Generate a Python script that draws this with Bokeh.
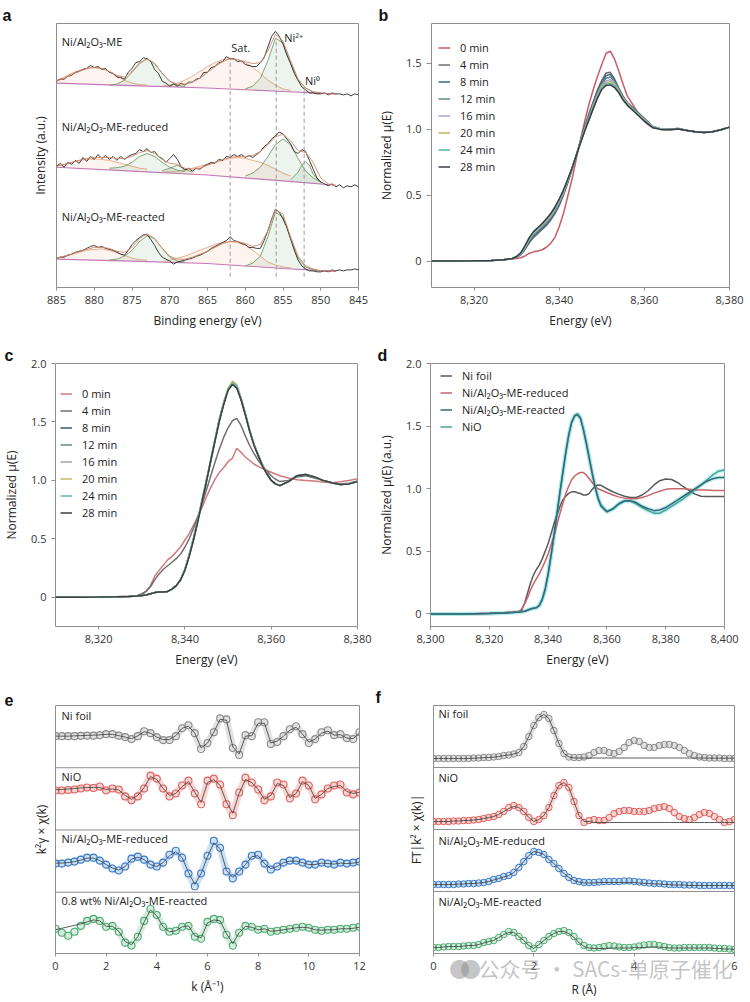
import numpy as np
from bokeh.plotting import figure
from bokeh.layouts import column, row
from bokeh.models import (Range1d, FixedTicker, Label, Legend, LegendItem, Span, LinearAxis,
                          NumeralTickFormatter, CustomJSTickFormatter)
from bokeh.embed import file_html
from bokeh.resources import INLINE

FONT = "Open Sans"

# ---------------- panel a : XPS Ni 2p (intensity in arbitrary units) ----------------
# measured spectra, 0.5 eV steps from 885 eV down to 845 eV
a_me = [211, 213, 213, 216, 217, 220, 221, 223, 224, 227,
        225, 226, 223, 224, 220, 219, 215, 215, 213, 220,
        224, 230, 231, 235, 234, 231, 223, 219, 211, 209,
        206, 208, 206, 209, 207, 210, 210, 213, 214, 220,
        220, 225, 226, 230, 231, 236, 234, 234, 231, 232,
        228, 227, 226, 226, 230, 235, 246, 257, 262, 257,
        249, 238, 229, 219, 212, 205, 202, 199, 199, 198,
        198, 199, 197, 199, 198, 198, 197, 198, 196, 198, 197]
a_reduced = [124, 127, 123, 128, 126, 130, 127, 133, 129, 134,
             131, 136, 132, 135, 131, 134, 130, 134, 131, 134,
             136, 137, 141, 139, 142, 138, 139, 134, 132, 128,
             132, 136, 131, 124, 120, 122, 119, 122, 121, 124,
             126, 128, 127, 131, 130, 134, 133, 136, 134, 136,
             133, 135, 133, 136, 139, 144, 147, 152, 155, 159,
             157, 152, 147, 139, 137, 141, 139, 130, 121, 112,
             108, 106, 104, 106, 103, 105, 102, 104, 103, 105, 103]
a_reacted = [30, 31, 31, 33, 34, 36, 37, 38, 40, 42,
             43, 41, 42, 40, 39, 38, 36, 34, 33, 38,
             44, 48, 51, 54, 54, 49, 43, 36, 31, 29,
             27, 24, 26, 27, 28, 29, 30, 32, 33, 35,
             37, 40, 42, 44, 46, 48, 52, 48, 47, 45,
             44, 41, 41, 40, 40, 48, 58, 70, 80, 77,
             70, 62, 50, 38, 28, 22, 19, 17, 17, 16,
             16, 17, 16, 18, 17, 18, 17, 18, 18, 19, 18]

# fitted envelopes, 1 eV steps 885 -> 848
a_fit_energy = list(range(885, 847, -1))
a_me_fit = [211, 214, 218, 221, 224, 225, 224, 221, 217, 215,
            221, 230, 234, 229, 219, 211, 208, 208, 210, 214,
            220, 226, 231, 234, 233, 231, 229, 230, 242, 259,
            252, 232, 213, 204, 200, 199, 198, 198]
a_reduced_fit = [124, 126, 128, 130, 132, 133, 133, 133, 132, 132,
                 134, 138, 140, 137, 131, 127, 126, 122, 121, 122,
                 125, 128, 131, 133, 134, 134, 135, 139, 146, 154,
                 157, 150, 140, 138, 128, 112, 106, 104]
a_reacted_fit = [30, 32, 34, 37, 39, 41, 41, 40, 37, 36,
                 41, 50, 55, 50, 40, 32, 29, 29, 31, 34,
                 37, 41, 45, 47, 47, 45, 42, 44, 58, 80,
                 75, 52, 32, 22, 19, 17, 17, 17]

# backgrounds
a_bg_energy = [885, 875, 865, 855, 848]
a_me_bg = [209, 206.5, 204, 200.5, 198]
a_reduced_bg = [123, 119, 115, 109, 104.5]
a_reacted_bg = [29, 27, 24.5, 19.5, 16.5]

# fitted components
a_sat880_energy = list(range(885, 872, -1))
a_p873_energy = list(range(878, 867, -1))
a_sat862_energy = list(range(871, 853, -1))
a_ni2_energy = list(range(860, 849, -1))
a_p869_energy = [871, 870, 869, 868, 867]
a_ni0_energy = [854, 853, 852.5, 852, 851.5, 851, 850]

a_me_sat880 = [212, 215, 219, 222, 224, 225, 224, 221, 216, 212, 209, 207.5, 207]
a_me_p873 = [207, 208, 212, 220, 229, 234, 229, 219, 211, 207, 205.5]
a_me_sat862 = [206, 207, 209, 212, 216, 221, 226, 230, 233, 234, 233, 230, 225, 219, 212, 207, 203, 201.5]
a_me_ni2 = [203, 206, 214, 232, 255, 250, 230, 212, 204, 200, 199]

a_reduced_sat880 = [124, 126, 128, 130, 131, 131.5, 131, 130, 128, 126, 124, 122, 121]
a_reduced_p873 = [122, 122.5, 124, 128, 134, 137, 134, 128, 123, 120, 118.5]
a_reduced_p869 = [119.5, 122, 125, 121, 118]
a_reduced_sat862 = [118, 118.5, 119, 120, 122, 124, 126, 128, 130, 132, 133, 132, 130, 128, 125, 121, 117, 114]
a_reduced_ni2 = [114, 117, 123, 134, 146, 152, 146, 132, 119, 112, 108]
a_reduced_ni0 = [110, 118, 125, 129, 125, 116, 107]

a_reacted_sat880 = [30, 32, 34, 36, 38, 39, 39.5, 38, 36, 33, 30, 28.5, 28]
a_reacted_p873 = [28, 29, 32, 38, 47, 53, 50, 40, 31, 27, 26]
a_reacted_sat862 = [26, 28, 30, 32, 35, 38, 41, 44, 46, 47, 46, 43, 38, 32, 26, 23, 21, 20]
a_reacted_ni2 = [22, 25, 32, 52, 77, 72, 50, 30, 21, 18, 17]

a_peak_energy = [862.0, 855.9, 852.2]
a_peak_names = ["Sat.", "Ni\u00b2\u207a", "Ni\u2070"]
a_sample_names = ["Ni/Al\u2082O\u2083-ME", "Ni/Al\u2082O\u2083-ME-reduced", "Ni/Al\u2082O\u2083-ME-reacted"]

# ---------------- panels b, c : operando XANES ----------------
xanes_energy = [8310, 8315, 8320, 8324, 8327, 8329,
                8330, 8331, 8332, 8333, 8334, 8335, 8336, 8337, 8338, 8339,
                8340, 8341, 8342, 8343, 8344, 8345, 8346, 8347, 8348, 8349,
                8350, 8351, 8352, 8353, 8354, 8355, 8356, 8357, 8358, 8359,
                8360, 8361, 8362, 8364, 8366, 8368, 8370, 8372, 8374, 8376, 8378, 8380]
time_labels = ["0 min", "4 min", "8 min", "12 min", "16 min", "20 min", "24 min", "28 min"]

b_0min = [0, 0, 0.002, 0.005, 0.01, 0.015,
          0.02, 0.025, 0.04, 0.06, 0.07, 0.076, 0.086, 0.105, 0.135, 0.18,
          0.26, 0.36, 0.49, 0.62, 0.77, 0.92, 1.06, 1.19, 1.30, 1.40,
          1.49, 1.575, 1.59, 1.53, 1.44, 1.34, 1.25, 1.20, 1.15, 1.10,
          1.06, 1.03, 1.01, 1.0, 1.0, 1.0, 0.99, 0.98, 0.975, 0.98, 0.995, 1.015]
b_4min = [0, 0, 0.002, 0.005, 0.01, 0.02,
          0.03, 0.05, 0.09, 0.14, 0.18, 0.21, 0.24, 0.27, 0.31, 0.36,
          0.42, 0.50, 0.59, 0.69, 0.80, 0.91, 1.02, 1.12, 1.21, 1.30,
          1.37, 1.425, 1.43, 1.38, 1.31, 1.25, 1.20, 1.17, 1.14, 1.11,
          1.08, 1.05, 1.02, 1.0, 1.0, 1.005, 0.99, 0.98, 0.975, 0.98, 0.995, 1.015]
b_8min = [0, 0, 0.002, 0.005, 0.01, 0.02,
          0.03, 0.05, 0.095, 0.15, 0.19, 0.22, 0.25, 0.28, 0.32, 0.37,
          0.43, 0.51, 0.60, 0.70, 0.80, 0.91, 1.02, 1.11, 1.20, 1.28,
          1.35, 1.405, 1.415, 1.37, 1.30, 1.245, 1.20, 1.17, 1.14, 1.11,
          1.08, 1.05, 1.02, 1.0, 1.0, 1.005, 0.99, 0.98, 0.975, 0.98, 0.995, 1.015]
b_12min = [0, 0, 0.002, 0.005, 0.01, 0.02,
           0.03, 0.055, 0.10, 0.16, 0.20, 0.23, 0.26, 0.29, 0.33, 0.38,
           0.44, 0.52, 0.61, 0.70, 0.80, 0.905, 1.01, 1.10, 1.19, 1.27,
           1.34, 1.385, 1.395, 1.36, 1.30, 1.24, 1.20, 1.165, 1.135, 1.105,
           1.075, 1.045, 1.02, 1.0, 0.998, 1.0, 0.99, 0.98, 0.975, 0.98, 0.995, 1.015]
b_16min = [0, 0, 0.002, 0.005, 0.01, 0.02,
           0.03, 0.055, 0.105, 0.165, 0.21, 0.24, 0.27, 0.30, 0.34, 0.39,
           0.45, 0.52, 0.61, 0.70, 0.80, 0.90, 1.0, 1.09, 1.18, 1.26,
           1.33, 1.365, 1.375, 1.345, 1.29, 1.235, 1.195, 1.16, 1.13, 1.10,
           1.07, 1.045, 1.02, 1.0, 0.998, 1.0, 0.99, 0.98, 0.975, 0.98, 0.995, 1.015]
b_20min = [0, 0, 0.002, 0.005, 0.01, 0.02,
           0.035, 0.06, 0.11, 0.17, 0.215, 0.245, 0.275, 0.31, 0.35, 0.40,
           0.46, 0.53, 0.61, 0.70, 0.80, 0.90, 0.995, 1.08, 1.17, 1.25,
           1.32, 1.35, 1.36, 1.335, 1.285, 1.23, 1.19, 1.16, 1.13, 1.10,
           1.07, 1.04, 1.015, 0.998, 0.996, 1.0, 0.99, 0.98, 0.975, 0.98, 0.995, 1.015]
b_24min = [0, 0, 0.002, 0.005, 0.01, 0.02,
           0.035, 0.06, 0.115, 0.175, 0.22, 0.25, 0.28, 0.315, 0.355, 0.405,
           0.465, 0.535, 0.615, 0.70, 0.80, 0.895, 0.99, 1.075, 1.16, 1.24,
           1.31, 1.34, 1.345, 1.325, 1.28, 1.225, 1.185, 1.155, 1.125, 1.095,
           1.065, 1.04, 1.015, 0.998, 0.996, 1.0, 0.99, 0.98, 0.975, 0.98, 0.995, 1.015]
b_28min = [0, 0, 0.002, 0.005, 0.01, 0.02,
           0.035, 0.065, 0.12, 0.18, 0.225, 0.255, 0.285, 0.32, 0.36, 0.41,
           0.47, 0.54, 0.62, 0.705, 0.80, 0.895, 0.985, 1.07, 1.155, 1.235,
           1.30, 1.33, 1.335, 1.315, 1.275, 1.22, 1.18, 1.15, 1.12, 1.09,
           1.06, 1.035, 1.01, 0.996, 0.995, 1.0, 0.99, 0.98, 0.975, 0.98, 0.995, 1.015]

c_0min = [0, 0, 0.002, 0.004, 0.008, 0.012,
          0.02, 0.05, 0.10, 0.18, 0.23, 0.275, 0.32, 0.35, 0.39, 0.43,
          0.49, 0.545, 0.617, 0.69, 0.77, 0.86, 0.94, 1.01, 1.07, 1.11,
          1.16, 1.19, 1.275, 1.24, 1.20, 1.17, 1.14, 1.12, 1.10, 1.085,
          1.07, 1.055, 1.04, 1.02, 1.005, 1.0, 0.994, 0.986, 0.98, 0.989, 1.0, 1.014]
c_4min = [0, 0, 0.002, 0.004, 0.008, 0.015,
          0.03, 0.05, 0.09, 0.15, 0.20, 0.24, 0.27, 0.30, 0.33, 0.37,
          0.43, 0.50, 0.59, 0.69, 0.80, 0.92, 1.04, 1.16, 1.27, 1.37,
          1.45, 1.51, 1.53, 1.47, 1.38, 1.30, 1.23, 1.17, 1.12, 1.08,
          1.04, 1.01, 0.99, 1.0, 1.03, 1.04, 1.02, 1.0, 0.98, 0.97, 0.975, 0.995]
c_8min = [0, 0, 0.002, 0.004, 0.007, 0.01,
          0.015, 0.02, 0.03, 0.04, 0.045, 0.045, 0.05, 0.07, 0.10, 0.15,
          0.24, 0.36, 0.50, 0.66, 0.83, 1.0, 1.17, 1.35, 1.52, 1.66,
          1.78, 1.83, 1.80, 1.70, 1.57, 1.43, 1.31, 1.22, 1.13, 1.06,
          1.0, 0.97, 0.955, 0.99, 1.04, 1.05, 1.03, 1.0, 0.98, 0.965, 0.97, 0.99]
c_12min = [0, 0, 0.002, 0.004, 0.007, 0.01,
           0.015, 0.02, 0.03, 0.04, 0.045, 0.045, 0.05, 0.07, 0.10, 0.15,
           0.24, 0.37, 0.51, 0.67, 0.84, 1.01, 1.18, 1.36, 1.53, 1.67,
           1.78, 1.84, 1.81, 1.70, 1.57, 1.43, 1.31, 1.22, 1.13, 1.06,
           1.0, 0.97, 0.955, 0.99, 1.04, 1.05, 1.03, 1.0, 0.98, 0.965, 0.97, 0.99]
c_16min = [0, 0, 0.002, 0.004, 0.007, 0.01,
           0.015, 0.02, 0.03, 0.04, 0.045, 0.045, 0.05, 0.07, 0.10, 0.15,
           0.23, 0.35, 0.49, 0.65, 0.82, 0.99, 1.16, 1.34, 1.51, 1.65,
           1.77, 1.82, 1.80, 1.69, 1.56, 1.42, 1.31, 1.21, 1.13, 1.06,
           1.0, 0.97, 0.955, 0.99, 1.04, 1.05, 1.03, 1.0, 0.98, 0.965, 0.97, 0.99]
c_20min = [0, 0, 0.002, 0.004, 0.007, 0.01,
           0.015, 0.02, 0.03, 0.04, 0.045, 0.045, 0.05, 0.07, 0.10, 0.15,
           0.24, 0.36, 0.50, 0.66, 0.83, 1.0, 1.18, 1.36, 1.53, 1.67,
           1.79, 1.85, 1.82, 1.71, 1.57, 1.43, 1.31, 1.22, 1.13, 1.06,
           1.0, 0.97, 0.955, 0.99, 1.04, 1.05, 1.03, 1.0, 0.98, 0.965, 0.97, 0.99]
c_24min = [0, 0, 0.002, 0.004, 0.007, 0.01,
           0.015, 0.02, 0.03, 0.04, 0.045, 0.045, 0.05, 0.07, 0.10, 0.15,
           0.24, 0.36, 0.50, 0.66, 0.83, 1.0, 1.17, 1.35, 1.52, 1.66,
           1.78, 1.83, 1.81, 1.70, 1.57, 1.43, 1.30, 1.21, 1.12, 1.055,
           1.0, 0.97, 0.955, 0.99, 1.04, 1.05, 1.03, 1.0, 0.98, 0.965, 0.97, 0.99]
c_28min = [0, 0, 0.002, 0.004, 0.007, 0.01,
           0.015, 0.02, 0.03, 0.04, 0.045, 0.045, 0.05, 0.07, 0.10, 0.15,
           0.23, 0.35, 0.49, 0.65, 0.82, 0.99, 1.17, 1.34, 1.51, 1.65,
           1.77, 1.82, 1.79, 1.69, 1.56, 1.42, 1.30, 1.21, 1.12, 1.055,
           1.0, 0.97, 0.955, 0.99, 1.04, 1.05, 1.03, 1.0, 0.98, 0.965, 0.97, 0.99]

# ---------------- panel d : reference XANES ----------------
d_energy = [8300, 8305, 8310, 8315, 8320, 8325, 8328,
            8330, 8331, 8332, 8333, 8334, 8335, 8336, 8337, 8338, 8339,
            8340, 8341, 8342, 8343, 8344, 8345, 8346, 8347, 8348, 8349,
            8350, 8351, 8352, 8353, 8354, 8355, 8356, 8357, 8358,
            8360, 8362, 8364, 8366, 8368, 8370, 8372, 8374, 8376, 8378,
            8380, 8382, 8384, 8386, 8388, 8390, 8392, 8394, 8396, 8398, 8400]
d_ni_foil = [0, 0, 0, 0.002, 0.005, 0.01, 0.015,
             0.02, 0.03, 0.085, 0.165, 0.245, 0.31, 0.355, 0.39, 0.44, 0.50,
             0.56, 0.64, 0.72, 0.79, 0.855, 0.91, 0.94, 0.963, 0.975, 0.976,
             0.968, 0.962, 0.95, 0.95, 0.963, 0.995, 1.02, 1.03, 1.027,
             1.0, 0.976, 0.957, 0.94, 0.93, 0.93, 0.95, 0.984, 1.03, 1.064,
             1.077, 1.074, 1.05, 1.016, 0.984, 0.957, 0.94, 0.939, 0.939, 0.939, 0.939]
d_reduced = [0, 0, 0, 0.002, 0.005, 0.01, 0.015,
             0.02, 0.04, 0.08, 0.13, 0.19, 0.24, 0.28, 0.32, 0.37, 0.42,
             0.48, 0.55, 0.62, 0.71, 0.80, 0.88, 0.96, 1.02, 1.07, 1.10,
             1.12, 1.13, 1.13, 1.11, 1.08, 1.05, 1.02, 1.0, 0.99,
             0.97, 0.95, 0.935, 0.925, 0.92, 0.92, 0.93, 0.945, 0.965, 0.98,
             0.995, 1.0, 1.0, 1.0, 0.995, 0.99, 0.99, 0.99, 0.985, 0.985, 0.985]
d_reacted = [0, 0, 0, 0.002, 0.004, 0.008, 0.012,
             0.015, 0.018, 0.022, 0.03, 0.04, 0.045, 0.05, 0.07, 0.12, 0.20,
             0.32, 0.47, 0.63, 0.80, 0.97, 1.13, 1.29, 1.43, 1.53, 1.58,
             1.59, 1.56, 1.47, 1.36, 1.24, 1.12, 1.01, 0.92, 0.86,
             0.815, 0.84, 0.88, 0.905, 0.905, 0.89, 0.86, 0.84, 0.825, 0.83,
             0.85, 0.88, 0.91, 0.94, 0.97, 1.0, 1.03, 1.06, 1.08, 1.09, 1.09]
d_nio = [0, 0, 0, 0.002, 0.004, 0.008, 0.012,
         0.015, 0.018, 0.022, 0.03, 0.04, 0.045, 0.05, 0.065, 0.11, 0.19,
         0.31, 0.46, 0.62, 0.79, 0.96, 1.12, 1.28, 1.42, 1.53, 1.585,
         1.60, 1.57, 1.48, 1.37, 1.25, 1.13, 1.02, 0.93, 0.87,
         0.82, 0.835, 0.875, 0.90, 0.90, 0.88, 0.85, 0.825, 0.805, 0.805,
         0.83, 0.86, 0.89, 0.92, 0.955, 0.99, 1.03, 1.07, 1.11, 1.14, 1.15]
d_labels = ["Ni foil", "Ni/Al\u2082O\u2083-ME-reduced", "Ni/Al\u2082O\u2083-ME-reacted", "NiO"]

# ---------------- panel e : k2-weighted EXAFS (0.25 A^-1 steps, 0..12) ----------------
e_ni_foil = [0, 0, 0, 0, 0.3, 0.5, 0.5, 1,
             2, 2, 0.5, -1, -3, 0, 5, 3,
             -1, -4, -4, 0, 8, 11, 3, -13,
             -7, 4, 18, 17, -12, -19, 1, 0,
             14, 14, -8, -6, 0, 7, 10, 2,
             -7, -3, 4, 6, 1, 2, -2, -3,
             4]
e_ni_foil_fit = [0, 0, 0, 0.3, 0.5, 0.8, 1, 1.3,
                 1.8, 1.8, 0.5, -1, -2.5, 0.3, 4.5, 3,
                 -1, -3.5, -3.5, 0.5, 8, 10, 3, -12,
                 -7, 4, 17, 16, -11, -18, 0, 0.5,
                 13, 13, -7, -5, 0, 6, 9, 2,
                 -6, -3, 3, 5, 1, 1.5, -2, -2.5,
                 3]
e_nio = [0, 0, 0.5, 1, 2, 3, 2.5, 4,
         0, 2, 1, -6, -10, -6, 2, 15,
         12, 2, -6, -3, 5, 10, -3, -14,
         10, 12, 6, -14, -25, -2, 13, 8,
         1, -10, -6, 8, 6, -8, -3, 10,
         5, -9, -4, 2, 5, 6, -2, -4,
         -2]
e_nio_fit = [1, 1, 1.5, 2, 2.5, 3, 3, 3,
             1, 1.5, 0.5, -5, -9, -5, 3, 14,
             11, 2, -5, -3, 4, 9, -2, -12,
             8, 11, 5, -12, -23, -3, 11, 8,
             1, -9, -5, 7, 5, -7, -3, 9,
             5, -8, -4, 2, 4, 5, -1, -3,
             -2]
e_reduced = [0, 0, 1, 2, 4, 6, 6, 3,
             -1, -5, -7, -3, 5, 7, 4, -1,
             -3, 1, 9, 13, 6, -10, -23, -10,
             8, 23, 16, -8, -15, -8, -1, 8,
             9, 0, -6, -3, 1, 3, 3, 1,
             -1, -1, 1, 0, -1, 1, 0, 1,
             2]
e_reduced_fit = [0.5, 0.5, 1, 2, 3.5, 5.5, 5.5, 3,
                 -1, -4.5, -6.5, -3, 4.5, 6.5, 4, -1,
                 -3, 1, 8, 12, 6, -9, -21, -10,
                 7, 21, 15, -7, -14, -8, -1, 7,
                 8, 0, -5, -3, 1, 2.5, 2.5, 1,
                 -1, -1, 0.5, 0, -0.5, 0.5, 0, 0.5,
                 1.5]
e_reacted = [0, -4, -7, -3, 3, 8, 10, 8,
             2, 3, -3, -14, -17, -8, 8, 20,
             14, 2, -3, -2, 2, 3, -8, -10,
             7, 10, 9, -6, -17, -4, 3, 2,
             -1, 0, -3, -2, -1, 0, 1, 2,
             1, -1, -2, -1, -1, 0, 0, 1,
             2]
e_reacted_fit = [-1, 0.5, 2, 3.5, 5, 7, 9, 8,
                 2.5, 2.5, -2.5, -13, -16, -8, 7, 19,
                 13, 2, -3, -2, 2, 3, -7, -9,
                 6, 9, 8, -5, -15, -4, 2.5, 1.5,
                 -1, 0, -2.5, -2, -1, 0, 1, 1.5,
                 1, -1, -1.5, -1, -1, 0, 0, 0.5,
                 1.5]
e_labels = ["Ni foil", "NiO", "Ni/Al\u2082O\u2083-ME-reduced", "0.8 wt% Ni/Al\u2082O\u2083-ME-reacted"]

# ---------------- panel f : FT-EXAFS (0.1 A steps, 0..6) ----------------
f_ni_foil = [0, 0, 0, 0, 0, 0, 0, 0, 0.5, 0.5,
             1, 1, 1.5, 2, 3, 3.5, 4.5, 6, 12, 22,
             33, 41, 44, 40, 28, 15, 5, 1.5, 1, 1,
             1.5, 3, 6, 8, 8, 6, 5, 7, 11, 16,
             18, 17, 13, 11, 11, 13, 14, 14, 13, 11,
             8, 5, 3, 1.5, 1, 0.5, 0.5, 0.5, 0, 0,
             0]
f_ni_foil_fit = [0, 0, 0, 0, 0, 0, 0, 0, 0.3, 0.5,
                 0.8, 1, 1.3, 2, 3, 3.5, 4.5, 6, 12, 22,
                 33, 41, 44, 40, 28, 15, 5, 1.5, 0.5, 0.5,
                 0.5, 0.5, 0.5, 0.5, 0.5, 0.5, 0.5, 0.5, 0.5, 0.5,
                 0.5, 0.5, 0.5, 0.5, 0.5, 0.5, 0.5, 0.5, 0.5, 0.5,
                 0.5, 0.5, 0.5, 0.5, 0.5, 0.3, 0.3, 0.3, 0.3, 0.3,
                 0.3]
f_nio = [0, 0, 0, 0, 0.5, 0.5, 1, 1, 1.5, 2,
         3, 4, 5, 7, 10, 14, 16, 14, 10, 4,
         0, 2, 6, 14, 26, 36, 39, 34, 20, 6,
         -1, 1, 2, 1, 1, 4, 8, 10, 11, 11,
         10, 10, 10, 11, 13, 14, 15, 13, 9, 5,
         3, 2, 4, 7, 9, 8, 5, 2, -1, 0,
         2]
f_nio_fit = [0, 0, 0, 0, 0.5, 0.5, 1, 1, 1.5, 2,
             3, 4, 5, 7, 10, 13, 15, 14, 10, 4,
             0, 2, 6, 14, 26, 36, 39, 34, 20, 6,
             0, 0, -1, -1, -1, -1, -1, -1, -1, -1,
             -1, -1, -1, -1, -1, -1, -1, -1, -1, -1,
             -1, -1, -1, -1, -1, -1, -1, -1, -1, -1,
             -1]
f_reduced = [1, 1, 1, 1, 1, 1.5, 1.5, 2, 2, 2.5,
             3, 4, 6, 7, 9, 10, 13, 18, 24, 30,
             34, 33, 31, 26, 22, 17, 12, 8, 5, 4,
             3, 3, 3, 3.5, 4, 4, 4, 4, 4.5, 4.5,
             4, 3.5, 3, 2.5, 2, 2, 1.5, 1, 1, 1,
             0.5, 0.5, 0.5, 0, 0, 0, 0, 0, 0, 0,
             0]
f_reduced_fit = [1, 1, 1, 1, 1, 1.5, 1.5, 2, 2, 2.5,
                 3, 4, 5.5, 7, 8.5, 10, 13, 18, 24, 30,
                 34, 33, 31, 26, 22, 17, 12, 8, 5, 3.5,
                 2.5, 2.5, 2.5, 3, 3, 3, 3, 3, 3, 3,
                 3, 2.5, 2, 2, 1.5, 1.5, 1, 1, 0.5, 0.5,
                 0.5, 0, 0, 0, 0, 0, 0, 0, 0, 0,
                 0]
f_reacted = [1, 1, 1.5, 2, 2, 2, 2.5, 3, 3, 4,
             6, 7, 8, 11, 14, 17, 16, 12, 8, 3,
             0, 4, 8, 12, 15, 17, 18, 16, 12, 7,
             3, 1, 0.5, 1, 2, 3, 2.5, 1.5, 1, 1,
             1.5, 2.5, 3.5, 4, 4, 3, 2, 1, 0.5, 0.5,
             1, 1, 1, 1, 1, 1, 0.5, 0, 0, -0.5,
             -1]
f_reacted_fit = [1, 1, 1.5, 2, 2, 2, 2.5, 3, 3, 4,
                 5.5, 7, 8, 11, 14, 16, 16, 12, 8, 3,
                 0, 4, 8, 12, 15, 17, 17, 15, 11, 6,
                 2, 0.5, 0, 0, 0, 0.5, 0.5, 0.5, 0.5, 0.5,
                 1, 1, 1, 1.5, 1.5, 1.5, 1, 0.5, 0.5, 0.5,
                 0.5, 0.5, 0.5, 0.5, 0.5, 0.5, 0, 0, -0.5, -0.5,
                 -1]
f_labels = ["Ni foil", "NiO", "Ni/Al\u2082O\u2083-ME-reduced", "Ni/Al\u2082O\u2083-ME-reacted"]

WATERMARK = "\u516c\u4f17\u53f7 \u00b7 SACs-\u5355\u539f\u5b50\u50ac\u5316"


def pair(x, y):
    n = min(len(x), len(y))
    return list(x)[:n], list(y)[:n]


def base_fig(w, h, xr, yr, left, right, top, bottom):
    p = figure(width=w, height=h, x_range=xr, y_range=yr,
               min_border_left=left, min_border_right=right,
               min_border_top=top, min_border_bottom=bottom,
               toolbar_location=None, tools="", output_backend="svg")
    p.grid.visible = False
    p.outline_line_color = "#8f8f8f"
    p.outline_line_width = 1
    for ax in (p.xaxis[0], p.yaxis[0]):
        ax.axis_line_color = None
        ax.major_tick_line_color = "#8f8f8f"
        ax.minor_tick_line_color = None
        ax.major_tick_in = 0
        ax.major_tick_out = 4
        ax.major_label_standoff = 4
        ax.axis_label_standoff = 8
        ax.major_label_text_font = FONT
        ax.major_label_text_font_size = "11px"
        ax.major_label_text_color = "#333333"
        ax.axis_label_text_font = FONT
        ax.axis_label_text_font_size = "12px"
        ax.axis_label_text_font_style = "normal"
        ax.axis_label_text_color = "#222222"
    p.xaxis.major_tick_out = 3
    p.xaxis.major_label_standoff = 5
    p.xaxis.axis_label_standoff = 5
    return p


def no_y_ticks(p, standoff):
    p.yaxis.ticker = FixedTicker(ticks=[])
    p.yaxis.major_tick_out = 0
    p.yaxis.major_label_standoff = 0
    p.yaxis.axis_label_standoff = standoff


def panel_letter(p, letter, offset):
    p.title.text = letter
    p.title.align = "left"
    p.title.offset = offset
    p.title.standoff = 0
    p.title.vertical_align = "bottom"
    p.title.text_font = "Liberation Sans"
    p.title.text_font_style = "bold"
    p.title.text_font_size = "16px"
    p.title.text_line_height = 0.85
    p.title.text_color = "#111111"


def text_label(p, x, y, txt, align="left", size="11px"):
    p.add_layout(Label(x=x, y=y, text=txt, text_font=FONT, text_font_size=size,
                       text_align=align, text_baseline="middle", text_color="#222222"))


def add_legend(p, items, x, y):
    leg = Legend(items=items, location=(x, y), orientation="vertical")
    leg.border_line_color = None
    leg.background_fill_alpha = 0
    leg.label_text_font = FONT
    leg.label_text_font_size = "11px"
    leg.label_text_color = "#222222"
    leg.glyph_width = 12
    leg.glyph_height = 13
    leg.label_height = 13
    leg.label_standoff = 10
    leg.spacing = 2
    leg.padding = 0
    leg.margin = 0
    p.add_layout(leg)


Y_TICKS = FixedTicker(ticks=[0, 0.5, 1.0, 1.5, 2.0])
Y_FMT = "return tick == 0 ? '0' : tick.toFixed(1);"

# ================= panel a =================
pa = base_fig(375, 332, Range1d(885, 845), Range1d(0, 270), 56, 17, 18, 44)
pa.xaxis.ticker = FixedTicker(ticks=[885, 880, 875, 870, 865, 860, 855, 850, 845])
pa.xaxis.axis_label = "Binding energy (eV)"
pa.yaxis.axis_label = "Intensity (a.u.)"
no_y_ticks(pa, 8)

BG_COL, SAT_COL, PK_COL, ENV_COL = "#c474bf", "#eba47e", "#6f9b69", "#d2876a"
spectra = [
    (a_me, a_me_fit, a_me_bg, a_me_sat880, a_me_p873, a_me_sat862, a_me_ni2),
    (a_reduced, a_reduced_fit, a_reduced_bg, a_reduced_sat880, a_reduced_p873,
     a_reduced_sat862, a_reduced_ni2),
    (a_reacted, a_reacted_fit, a_reacted_bg, a_reacted_sat880, a_reacted_p873,
     a_reacted_sat862, a_reacted_ni2),
]


def component(p, energy, ys, bg, col):
    ex, ey = pair(energy, ys)
    base = np.interp(ex[::-1], a_bg_energy[::-1], bg[::-1])[::-1]
    p.varea(x=ex, y1=base, y2=ey, fill_color=col, fill_alpha=0.12)
    p.line(ex, ey, color=col, line_width=0.9)


for data, fit, bg, s880, p873, s862, ni2 in spectra:
    pa.line(*pair(a_bg_energy, bg), color=BG_COL, line_width=1.1)
    component(pa, a_sat880_energy, s880, bg, SAT_COL)
    component(pa, a_sat862_energy, s862, bg, SAT_COL)
    component(pa, a_p873_energy, p873, bg, PK_COL)
    component(pa, a_ni2_energy, ni2, bg, PK_COL)
component(pa, a_p869_energy, a_reduced_p869, a_reduced_bg, PK_COL)
component(pa, a_ni0_energy, a_reduced_ni0, a_reduced_bg, PK_COL)

# dashed peak markers
pa.segment(x0=a_peak_energy, x1=a_peak_energy, y0=[11, 11, 11], y1=[235, 255, 205],
           line_color="#9a9a9a", line_width=1, line_dash="4 3")

for data, fit, *_ in spectra:
    a_energy = 885 - 0.5 * np.arange(len(data))
    pa.line(a_energy, data, color="#262626", line_width=0.9)
    pa.line(*pair(a_fit_energy, fit), color=ENV_COL, line_width=1.0, line_alpha=0.9)

for name, yy in zip(a_sample_names, [252, 165, 73]):
    text_label(pa, 884.3, yy, name)
for name, ex, yy in zip(a_peak_names, [860.6, 853.6, 851.1], [245, 256, 212]):
    text_label(pa, ex, yy, name, align="center")
panel_letter(pa, "a", -54)

# ================= panel b =================
TIME_COLORS = ["#c55c64", "#6c6c6c", "#3a6a8c", "#5f8a86", "#a8a2c8", "#bdb56a", "#50b5aa", "#3c3c44"]
pb = base_fig(375, 332, Range1d(8310, 8380), Range1d(-0.2, 1.8), 53, 21, 23, 45)
pb.xaxis.ticker = FixedTicker(ticks=[8320, 8340, 8360, 8380])
pb.xaxis.formatter = NumeralTickFormatter(format="0,0")
pb.yaxis.ticker = FixedTicker(ticks=[0, 0.5, 1.0, 1.5])
pb.yaxis.formatter = CustomJSTickFormatter(code=Y_FMT)
pb.xaxis.axis_label = "Energy (eV)"
pb.yaxis.axis_label = "Normalized \u03bc(E)"
pb.yaxis.major_tick_out = 5
pb.yaxis.major_label_standoff = 5
b_series = [b_0min, b_4min, b_8min, b_12min, b_16min, b_20min, b_24min, b_28min]
b_items = []
for lab, ys, col in zip(time_labels, b_series, TIME_COLORS):
    r = pb.line(*pair(xanes_energy, ys), color=col, line_width=1.5)
    b_items.append(LegendItem(label=lab, renderers=[r]))
add_legend(pb, b_items, 7, 113)
panel_letter(pb, "b", -53)

# ================= panel c =================
pc = base_fig(375, 340, Range1d(8310, 8380), Range1d(-0.25, 2.0), 55, 18, 31, 46)
pc.xaxis.ticker = FixedTicker(ticks=[8320, 8340, 8360, 8380])
pc.xaxis.formatter = NumeralTickFormatter(format="0,0")
pc.yaxis.ticker = Y_TICKS
pc.yaxis.formatter = CustomJSTickFormatter(code=Y_FMT)
pc.xaxis.axis_label = "Energy (eV)"
pc.yaxis.axis_label = "Normalized \u03bc(E)"
pc.yaxis.major_label_standoff = 5
C_COLORS = ["#cf7a7c", "#707070", "#2f5f70", "#5e8b80", "#a6a6a6", "#c6b962", "#55bcb3", "#3e3e44"]
c_series = [c_0min, c_4min, c_8min, c_12min, c_16min, c_20min, c_24min, c_28min]
c_items = []
for lab, ys, col in zip(time_labels, c_series, C_COLORS):
    r = pc.line(*pair(xanes_energy, ys), color=col, line_width=1.5)
    c_items.append(LegendItem(label=lab, renderers=[r]))
add_legend(pc, c_items, 5, 106)
panel_letter(pc, "c", -51)

# ================= panel d =================
pd_ = base_fig(375, 340, Range1d(8300, 8400), Range1d(-0.1, 2.0), 53, 26, 31, 46)
pd_.xaxis.ticker = FixedTicker(ticks=[8300, 8320, 8340, 8360, 8380, 8400])
pd_.xaxis.formatter = NumeralTickFormatter(format="0,0")
pd_.yaxis.ticker = Y_TICKS
pd_.yaxis.formatter = CustomJSTickFormatter(code=Y_FMT)
pd_.xaxis.axis_label = "Energy (eV)"
pd_.yaxis.axis_label = "Normalized \u03bc(E) (a.u.)"
pd_.yaxis.major_label_standoff = 5
for ys in (d_nio, d_reacted):
    pd_.line(*pair(d_energy, ys), color="#a8e6ea", line_width=4, line_alpha=0.7)
d_colors = {"Ni foil": "#5a5a5a", d_labels[1]: "#c9646b", d_labels[2]: "#2f6b7a", "NiO": "#46a596"}
d_series = {"Ni foil": d_ni_foil, d_labels[1]: d_reduced, d_labels[2]: d_reacted, "NiO": d_nio}
d_rs = {}
for lab in [d_labels[0], d_labels[1], d_labels[3], d_labels[2]]:
    d_rs[lab] = pd_.line(*pair(d_energy, d_series[lab]), color=d_colors[lab], line_width=1.5)
d_items = [LegendItem(label=lab, renderers=[d_rs[lab]]) for lab in d_labels]
add_legend(pd_, d_items, 10, 192)
panel_letter(pd_, "d", -53)

# ================= panel e =================
GLOW = ["#c4c4c4", "#f2a9a6", "#93c3ef", "#a8dcb9"]
EDGE = ["#8a8a8a", "#e0605c", "#3b78c8", "#4dab72"]
pe = base_fig(375, 330, Range1d(0, 12), Range1d(0, 251), 55, 16, 30, 49)
pe.xaxis.ticker = FixedTicker(ticks=[0, 2, 4, 6, 8, 10, 12])
pe.xaxis.axis_label = "k (\u00c5\u207b\u00b9)"
pe.yaxis.axis_label = "k\u00b2\u03b3 \u00d7 \u03c7(k)"
no_y_ticks(pe, 6)
e_offsets = [220, 165, 91, 25]
for sep in [188, 125, 62]:
    pe.add_layout(Span(location=sep, dimension="width", line_color="#8f8f8f", line_width=1))
for data, fit, off, edge, glow in zip([e_ni_foil, e_nio, e_reduced, e_reacted],
                                      [e_ni_foil_fit, e_nio_fit, e_reduced_fit, e_reacted_fit],
                                      e_offsets, EDGE, GLOW):
    k = np.arange(len(data)) * 0.25
    y = np.array(data, dtype=float) + off
    pe.line(k, y, color=glow, line_width=7, line_alpha=0.5)
    pe.scatter(k, y, marker="circle", size=7, fill_color=None, line_color=edge, line_width=1.1)
    kf = np.arange(len(fit)) * 0.25
    pe.line(kf, np.array(fit, dtype=float) + off, color="#4a4a4a", line_width=0.9)
for lab, yy in zip(e_labels, [241, 179, 116, 54]):
    text_label(pe, 0.24, yy, lab)
panel_letter(pe, "e", -51)

# ================= panel f =================
pf = base_fig(375, 330, Range1d(0, 6), Range1d(0, 248), 58, 16, 33, 49)
pf.xaxis.ticker = FixedTicker(ticks=[0, 2, 4, 6])
pf.yaxis.axis_label = "FT|k\u00b2 \u00d7 \u03c7(k)|"
no_y_ticks(pf, 9)
f_offsets = [195, 132, 68, 5]
for sep in [186, 124, 62]:
    pf.add_layout(Span(location=sep, dimension="width", line_color="#8f8f8f", line_width=1))
for data, fit, off, edge, glow in zip([f_ni_foil, f_nio, f_reduced, f_reacted],
                                      [f_ni_foil_fit, f_nio_fit, f_reduced_fit, f_reacted_fit],
                                      f_offsets, EDGE, GLOW):
    r = np.linspace(0, 6, len(data))
    y = np.array(data, dtype=float) + off
    pf.line(r, y, color=glow, line_width=6, line_alpha=0.5)
    pf.scatter(r, y, marker="circle", size=6.5, fill_color=None, line_color=edge, line_width=1)
    rf = np.linspace(0, 6, len(fit))
    pf.line(rf, np.array(fit, dtype=float) + off, color="#4a4a4a", line_width=0.9)
for lab, yy in zip(f_labels, [240, 176, 113, 52]):
    text_label(pf, 0.1, yy, lab)
panel_letter(pf, "f", -58)

# second bottom axis: carries the watermark (pulled up over the tick labels with a
# negative standoff) and the "R (A)" axis title
wm = LinearAxis(ticker=FixedTicker(ticks=[0.52, 0.74, 3.43]),
                formatter=CustomJSTickFormatter(
                    code="return tick < 1 ? '\u25cf' : '%s';" % WATERMARK))
wm.axis_line_color = None
wm.major_tick_line_color = None
wm.minor_tick_line_color = None
wm.major_tick_out = 0
wm.major_tick_in = 0
wm.major_label_standoff = -20
wm.major_label_text_font = "Noto Sans CJK SC"
wm.major_label_text_font_size = "21px"
wm.major_label_text_color = "#8c8c8c"
wm.major_label_text_alpha = 0.5
wm.axis_label = "R (\u00c5)"
wm.axis_label_standoff = -5
wm.axis_label_text_font = FONT
wm.axis_label_text_font_size = "12px"
wm.axis_label_text_font_style = "normal"
wm.axis_label_text_color = "#222222"
pf.add_layout(wm, "below")

layout = column(row(pa, pb), row(pc, pd_), row(pe, pf))
open("out.html", "w").write(file_html(layout, INLINE))
